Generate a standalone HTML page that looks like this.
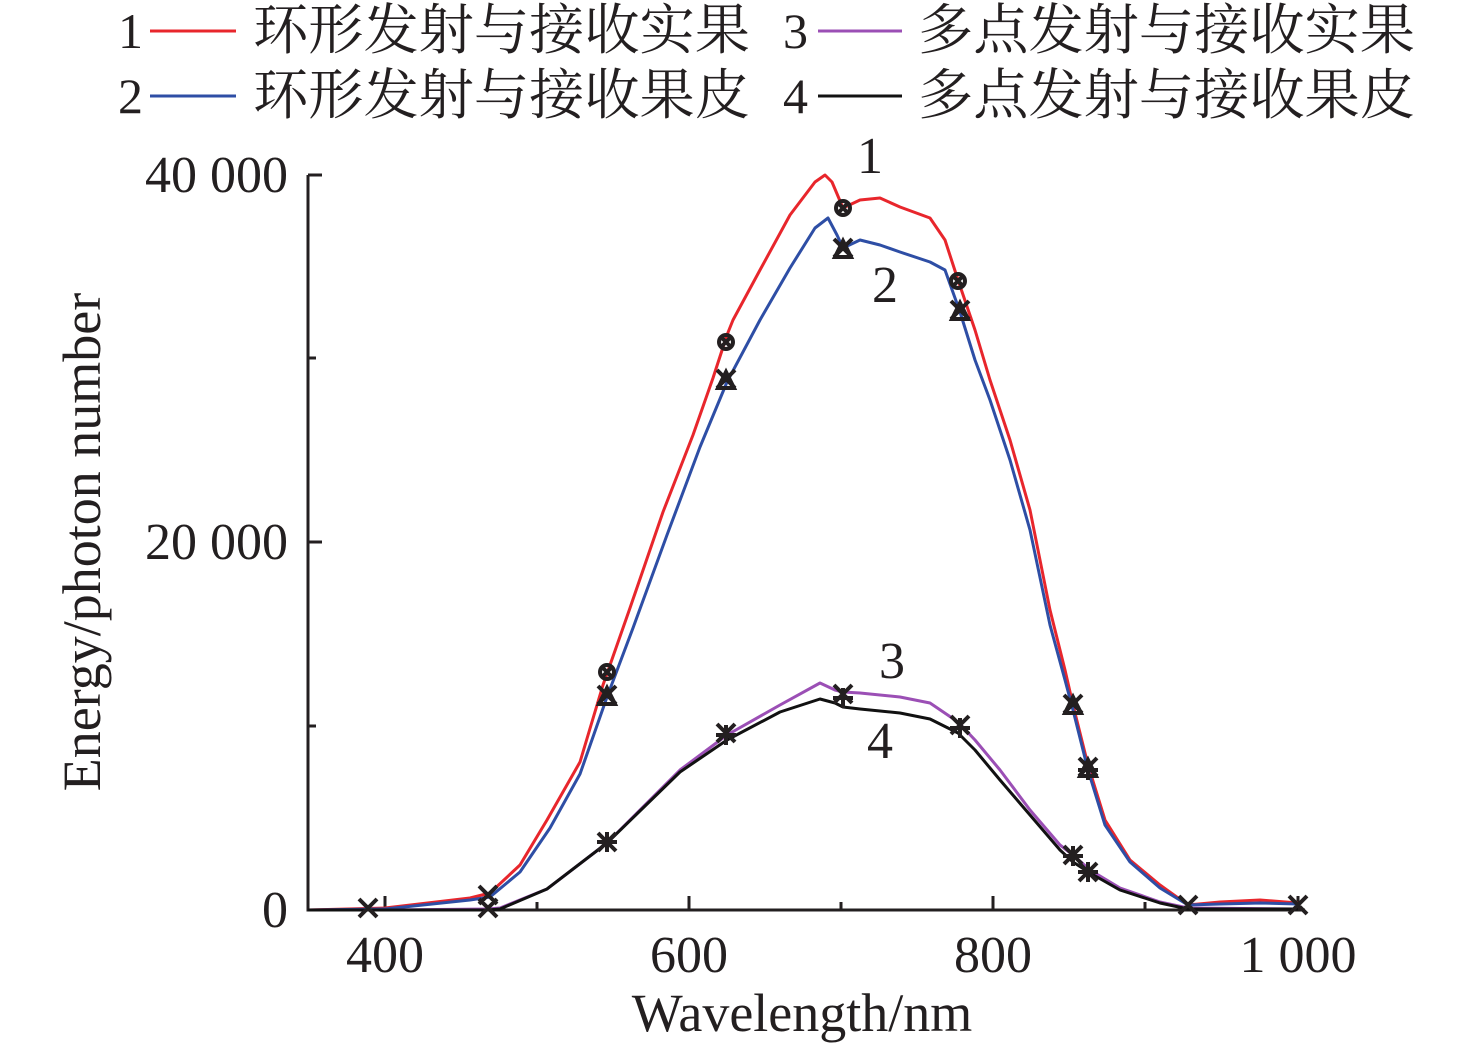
<!DOCTYPE html>
<html><head><meta charset="utf-8"><style>
html,body{margin:0;padding:0;background:#fff;}
svg{display:block;}
text{font-family:"Liberation Serif","Noto Serif CJK SC",serif;fill:#231f20;}
</style></head><body>
<svg width="1476" height="1049" viewBox="0 0 1476 1049" xmlns="http://www.w3.org/2000/svg">
<!-- legend -->
<g font-size="50">
<text x="118" y="48">1</text>
<line x1="150" y1="31" x2="236" y2="31" stroke="#e8262c" stroke-width="3"/>
<text x="253" y="49" font-size="55" textLength="497" lengthAdjust="spacingAndGlyphs">环形发射与接收实果</text>
<text x="783" y="48">3</text>
<line x1="818" y1="31" x2="902" y2="31" stroke="#9b4fb5" stroke-width="3"/>
<text x="918" y="49" font-size="55" textLength="497" lengthAdjust="spacingAndGlyphs">多点发射与接收实果</text>
<text x="118" y="113">2</text>
<line x1="150" y1="96" x2="236" y2="96" stroke="#2e4ea5" stroke-width="3"/>
<text x="253" y="114" font-size="55" textLength="497" lengthAdjust="spacingAndGlyphs">环形发射与接收果皮</text>
<text x="783" y="113">4</text>
<line x1="818" y1="96" x2="902" y2="96" stroke="#111" stroke-width="3"/>
<text x="918" y="114" font-size="55" textLength="497" lengthAdjust="spacingAndGlyphs">多点发射与接收果皮</text>
</g>
<!-- axes -->
<g stroke="#231f20" stroke-width="3" fill="none">
<polyline points="308,175 308,910 1305,910"/>
<line x1="308" y1="175" x2="322" y2="175"/>
<line x1="308" y1="358" x2="316" y2="358"/>
<line x1="308" y1="542" x2="322" y2="542"/>
<line x1="308" y1="726" x2="316" y2="726"/>
<line x1="385" y1="910" x2="385" y2="896"/>
<line x1="537" y1="910" x2="537" y2="902"/>
<line x1="689" y1="910" x2="689" y2="896"/>
<line x1="841" y1="910" x2="841" y2="902"/>
<line x1="993" y1="910" x2="993" y2="896"/>
<line x1="1145" y1="910" x2="1145" y2="902"/>
<line x1="1298" y1="910" x2="1298" y2="896"/>
</g>
<g font-size="52">
<text x="288" y="192" text-anchor="end">40 000</text>
<text x="288" y="559" text-anchor="end">20 000</text>
<text x="288" y="927" text-anchor="end">0</text>
<text x="385" y="972" text-anchor="middle">400</text>
<text x="689" y="972" text-anchor="middle">600</text>
<text x="993" y="972" text-anchor="middle">800</text>
<text x="1298" y="972" text-anchor="middle">1 000</text>
<text x="802" y="1031" text-anchor="middle" font-size="54">Wavelength/nm</text>
<text transform="translate(100,542) rotate(-90)" text-anchor="middle" font-size="54">Energy/photon number</text>
<text x="870" y="173" text-anchor="middle">1</text>
<text x="885" y="302" text-anchor="middle">2</text>
<text x="892" y="678" text-anchor="middle">3</text>
<text x="880" y="758" text-anchor="middle">4</text>
</g>
<!-- series -->
<g fill="none" stroke-width="3" stroke-linejoin="round">
<polyline stroke="#e8262c" points="308,910 385,908 470,898 490,893 520,865 547,820 580,762 603,685 630,608 663,512 693,435 713,378 727,335 733,320 760,270 790,215 815,182 825,175 832,182 843,208 860,200 880,198 900,207 930,218 945,240 958,280 975,330 990,380 1010,440 1030,510 1050,610 1065,670 1073,705 1088,765 1105,820 1130,860 1160,885 1188,905 1220,902 1260,900 1298,903"/>
<polyline stroke="#2e4ea5" points="308,910 385,909 470,900 490,897 520,872 550,828 580,774 607,697 633,628 667,535 700,447 727,382 760,320 790,268 815,228 828,218 837,235 843,248 860,240 880,245 900,252 930,262 945,270 960,312 975,360 990,400 1010,460 1030,530 1050,625 1065,680 1073,710 1088,770 1105,825 1130,862 1160,888 1188,905 1220,904 1260,903 1298,904"/>
<polyline stroke="#9b4fb5" points="308,910 385,910 488,909 500,908 547,889 607,843 680,770 727,735 780,705 820,683 835,690 843,692 860,693 900,697 930,703 958,722 975,740 1000,770 1030,810 1060,845 1073,855 1090,870 1120,888 1160,902 1188,908 1298,909"/>
<polyline stroke="#111" points="308,910 385,910 488,910 500,909 547,889 607,843 680,772 727,740 780,712 820,699 835,703 843,707 860,709 900,713 930,719 958,733 975,750 1000,780 1030,815 1060,850 1073,862 1090,873 1120,890 1160,903 1188,909 1298,909"/>
</g>
<!-- markers -->
<g stroke="#231f20" stroke-width="4" fill="none">
<circle cx="726" cy="342" r="7"/><circle cx="843" cy="208" r="7"/><circle cx="958" cy="281" r="7"/><circle cx="607" cy="672" r="7"/>
<path d="M721,337l10,10M731,337l-10,10 M838,203l10,10M848,203l-10,10 M953,276l10,10M963,276l-10,10 M602,667l10,10M612,667l-10,10"/>
<path d="M717,370l18,18M735,370l-18,18 M834,239l18,18M852,239l-18,18 M951,301l18,18M969,301l-18,18 M598,686l18,18M616,686l-18,18
M717,724l18,18M735,724l-18,18 M834,685l18,18M852,685l-18,18 M951,716l18,18M969,716l-18,18 M598,833l18,18M616,833l-18,18
M1064,695l18,18M1082,695l-18,18 M1079,758l18,18M1097,758l-18,18 M1064,846l18,18M1082,846l-18,18 M1079,863l18,18M1097,863l-18,18
M359,899l18,18M377,899l-18,18 M479,886l18,18M497,886l-18,18 M479,899l18,18M497,899l-18,18 M1179,896l18,18M1197,896l-18,18 M1289,896l18,18M1307,896l-18,18"/>
<path d="M718,388l8,-16l8,16z M835,257l8,-16l8,16z M952,319l8,-16l8,16z M599,704l8,-16l8,16z M1065,713l8,-16l8,16z M1080,776l8,-16l8,16z"/>
<path d="M716,735l20,0M726,725l0,20 M833,698l20,0M843,688l0,20 M950,728l20,0M960,718l0,20 M1078,770l20,0M1088,760l0,20 M597,842l20,0M607,832l0,20 M1063,856l20,0M1073,846l0,20 M1078,872l20,0M1088,862l0,20"/>
</g>
</svg>
</body></html>
